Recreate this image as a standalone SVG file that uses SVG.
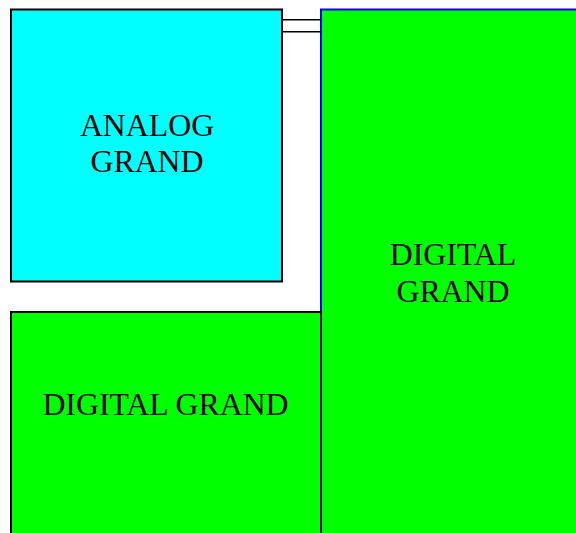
<svg xmlns="http://www.w3.org/2000/svg" width="576" height="533" viewBox="0 0 576 533">
  <style>
    .label { font-family: "Liberation Serif", "Times New Roman", serif; font-size: 31.8px; fill: #000; text-anchor: middle; }
    .analog { fill: #00ffff; stroke: #000; stroke-width: 2; }
    .digital { fill: #00ff00; stroke: #000; stroke-width: 2; }
    .digital-main { fill: #00ff00; stroke: #0000ff; stroke-width: 2; }
    .link { stroke: #000; stroke-width: 1.6; fill: none; }
  </style>
  <rect width="576" height="533" fill="#ffffff"/>

  <!-- right-hand digital ground plane -->
  <g id="digital-grand-right">
    <rect class="digital-main" x="321" y="9.5" width="280" height="540"/>
    <text class="label" x="453" y="264.5">DIGITAL</text>
    <text class="label" x="453" y="302">GRAND</text>
  </g>

  <!-- analog ground plane -->
  <g id="analog-grand">
    <rect class="analog" x="11" y="9.5" width="271" height="272"/>
    <text class="label" x="147" y="135.5">ANALOG</text>
    <text class="label" x="147" y="172">GRAND</text>
  </g>

  <!-- lower-left digital ground plane -->
  <g id="digital-grand-left">
    <rect class="digital" x="11" y="312" width="310" height="240"/>
    <text class="label" x="165.5" y="415">DIGITAL GRAND</text>
  </g>

  <!-- bridge joining analog and digital planes -->
  <g id="connectors">
    <line class="link" x1="282" y1="19.8" x2="321" y2="19.8"/>
    <line class="link" x1="282" y1="31.8" x2="321" y2="31.8"/>
  </g>
</svg>
